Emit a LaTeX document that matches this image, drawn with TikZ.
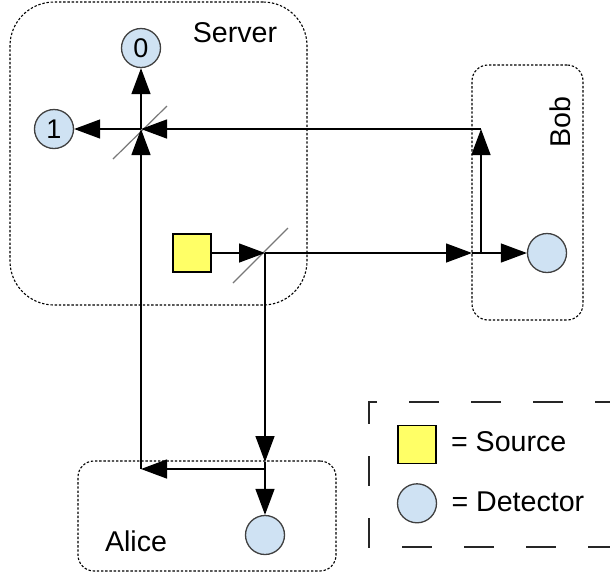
\documentclass[tikz,border=0pt]{standalone}
\usepackage{fontspec}
\setmainfont{Liberation Sans}
\usepackage{tikz}
\usetikzlibrary{arrows.meta}
\usetikzlibrary{positioning}
\usetikzlibrary{calc}
\definecolor{detblue}{RGB}{207,226,243}
\definecolor{srcyellow}{RGB}{255,255,102}
\definecolor{bsgrey}{RGB}{120,120,120}
\tikzstyle{detector} = [circle, minimum size=19.5pt, inner sep=0pt, draw=black!75, fill=detblue, line width=0.65pt, font=\fontsize{13.5}{15}\selectfont]
\tikzstyle{source} = [rectangle, minimum size=19pt, inner sep=0pt, draw=black, fill=srcyellow, line width=0.65pt]
\tikzstyle{party} = [rectangle, rounded corners=8pt, draw=black, line width=0.55pt, dash pattern=on 1.2pt off 0.9pt, inner sep=0pt]
\tikzstyle{splitter} = [coordinate]
\tikzstyle{bsline} = [draw=bsgrey, line width=0.6pt]
\tikzstyle{boxtitle} = [font=\fontsize{14.3}{17}\selectfont, inner sep=0pt]
\tikzstyle{legendbox} = [draw=black!85, line width=0.6pt, dash pattern=on 15pt off 16pt, dash phase=7.5pt]
\tikzstyle{arrow} = [line width=0.7pt, -{Triangle[length=13pt,width=9.5pt]}]

\begin{document}
\begin{tikzpicture}[x=0.5pt, y=-0.5pt, node distance=42pt]
	\useasboundingbox (0,0) rectangle (610,575);
	%boxes
	\node (server) [party, rounded corners=22pt, minimum width=148.5pt, minimum height=151.5pt] at (158.5,153.5) {};
	\node (bob) [party, minimum width=55.5pt, minimum height=127.5pt] at (527.5,192.5) {};
	\node (alice) [party, minimum width=129pt, minimum height=55pt] at (207,516) {};
	\node (servertitle) [boxtitle] at (235,33) {Server};
	\node (bobtitle) [boxtitle, rotate=90] at (560,122) {Bob};
	\node (alicetitle) [boxtitle] at (136,541) {Alice};
	%splitters
	\node (bs1) [splitter] at (141,129) {};
	\node (bs2) [splitter] at (265,253) {};
	\draw [bsline] ($(bs1)+(-28,30)$) -- ($(bs1)+(26,-23)$);
	\draw [bsline] ($(bs2)+(-32,30)$) -- ($(bs2)+(23,-25)$);
	%detectors and source
	\node (det0) [detector, above of=bs1, yshift=-1.5pt] {0};
	\node (det1) [detector, left of=bs1, xshift=-1.5pt] {1};
	\node (source) [source, left of=bs2, xshift=5.5pt] {};
	\coordinate (bobin) at (472,253);
	\coordinate (bobturn) at (481,253);
	\coordinate (bobup) at (481,129);
	\node (detbob) [detector, right of=bobin, xshift=-4.5pt] {};
	\coordinate (alicein) at (265,462);
	\coordinate (aliceturn) at (265,469);
	\coordinate (alicecorner) at (141,469);
	\node (detalice) [detector, below of=alicein, yshift=5.5pt] {};
	%lines
	\draw [arrow] (bs1) -- (det0);
	\draw [arrow] (bs1) -- (det1);
	\draw [arrow] (source) -- (bs2);
	\draw [arrow] (bs2) -- (bobin);
	\draw [arrow] (bobin) -- (detbob);
	\draw [arrow] (bobturn) -- (bobup);
	\draw [arrow] (bobup) -- (bs1);
	\draw [arrow] (bs2) -- (alicein);
	\draw [arrow] (alicein) -- (detalice);
	\draw [arrow] (aliceturn) -- (alicecorner);
	\draw [arrow] (alicecorner) -- (bs1);
	%legend
	\draw [legendbox] (610,402) -- (369,402) -- (369,547) -- (610,547);
	\node (legsrc) [source] at (417,444.5) {};
	\node (legsrctext) [boxtitle, right=7pt of legsrc, yshift=1.2pt] {= Source};
	\node (legdet) [detector, below=9.5pt of legsrc] {};
	\node (legdettext) [boxtitle, right=7pt of legdet, yshift=1pt] {= Detector};
\end{tikzpicture}
\end{document}
